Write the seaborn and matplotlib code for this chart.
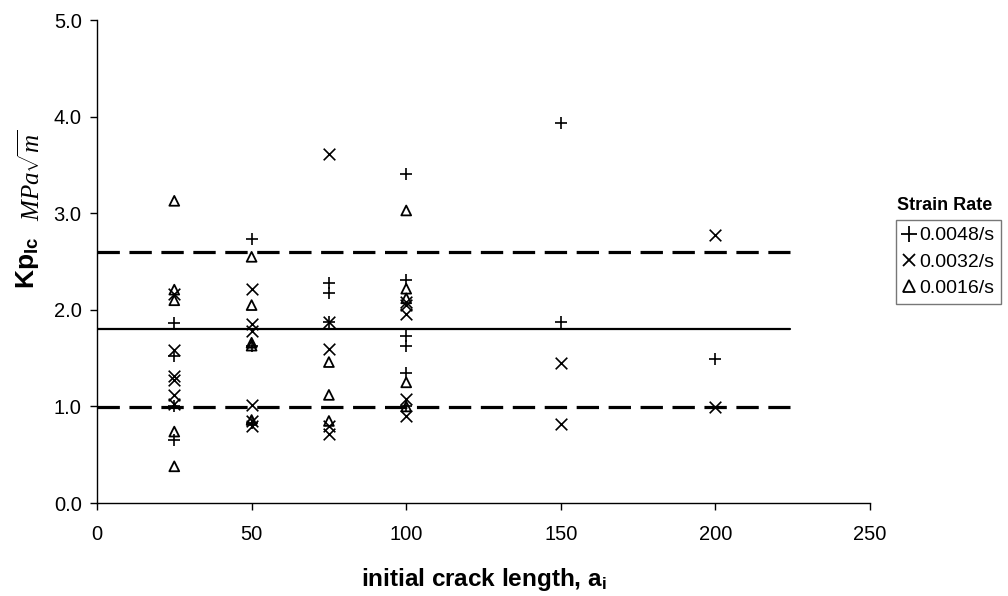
import numpy as np
import pandas as pd
import seaborn as sns
import matplotlib.pyplot as plt
from matplotlib.lines import Line2D

sns.set_theme(style='ticks')
plt.rcParams['font.family'] = ['Liberation Sans', 'DejaVu Sans']
plt.rcParams['text.color'] = 'black'
plt.rcParams['axes.labelcolor'] = 'black'
plt.rcParams['mathtext.fontset'] = 'custom'
plt.rcParams['mathtext.rm'] = 'Liberation Sans'
plt.rcParams['mathtext.bf'] = 'Liberation Sans:bold'
plt.rcParams['mathtext.it'] = 'Liberation Serif:italic'

# 读图数据：初始裂纹长度 vs Kp_Ic
crack_plus = [25, 25, 25, 25, 50, 50, 50, 75, 75, 75,
              100, 100, 100, 100, 100, 100, 150, 150, 200]
k_plus = [1.86, 1.52, 1.00, 0.65, 2.73, 1.63, 0.83, 2.28, 2.18, 1.88,
          3.41, 2.31, 1.73, 1.63, 1.35, 1.00, 3.94, 1.88, 1.49]

crack_x = [25, 25, 25, 25, 25, 25, 50, 50, 50, 50, 50, 50,
           75, 75, 75, 75, 75, 100, 100, 100, 100, 100, 150, 150, 200, 200]
k_x = [2.16, 1.58, 1.32, 1.27, 1.12, 1.03, 2.22, 1.85, 1.78, 1.02, 0.85, 0.80,
       3.61, 1.88, 1.60, 0.80, 0.72, 2.08, 2.05, 1.96, 1.08, 0.90, 1.45, 0.82, 2.78, 0.99]

crack_tri = [25, 25, 25, 25, 25, 50, 50, 50, 50, 50, 75, 75, 75,
             100, 100, 100, 100, 100]
k_tri = [3.13, 2.21, 2.10, 0.74, 0.38, 2.55, 2.05, 1.66, 1.63, 0.86, 1.46, 1.12, 0.85,
         3.03, 2.22, 2.12, 1.25, 1.00]

rate_labels = ['0.0048/s', '0.0032/s', '0.0016/s']

# 平均值和上下界
mean_k = 1.80
upper_k = 2.60
lower_k = 0.99
line_x = [0, 224]

fig = plt.figure(figsize=(10.08, 5.96), dpi=100)
ax = fig.add_axes([0.0962, 0.156, 0.767, 0.810])

df_plus = pd.DataFrame({'a': crack_plus, 'k': k_plus})
df_x = pd.DataFrame({'a': crack_x, 'k': k_x})
df_tri = pd.DataFrame({'a': crack_tri, 'k': k_tri})

sns.scatterplot(data=df_plus, x='a', y='k', marker='+', s=85, color='black',
                linewidth=1.2, ax=ax, zorder=3)
sns.scatterplot(data=df_x, x='a', y='k', marker='x', s=70, color='black',
                linewidth=1.2, ax=ax, zorder=3)
sns.scatterplot(data=df_tri, x='a', y='k', marker='^', s=50, facecolor='none',
                edgecolor='black', linewidth=1.3, ax=ax, zorder=3)

ax.plot(line_x, [mean_k, mean_k], color='black', lw=1.6)
ax.plot(line_x, [upper_k, upper_k], color='black', lw=2.3, dashes=(7, 3))
ax.plot(line_x, [lower_k, lower_k], color='black', lw=2.3, dashes=(7, 3))

ax.set_xlim(0, 250)
ax.set_ylim(0, 5)
ax.set_xticks(np.arange(0, 251, 50))
ax.set_yticks(np.arange(0, 5.1, 1.0))
ax.set_yticklabels([f'{v:.1f}' for v in np.arange(0, 5.1, 1.0)])
ax.tick_params(labelsize=14.5, length=5, width=1, colors='black')
ax.tick_params(axis='y', pad=6)
ax.tick_params(axis='x', pad=11)
for side in ['top', 'right']:
    ax.spines[side].set_visible(False)
for side in ['left', 'bottom']:
    ax.spines[side].set_color('black')
    ax.spines[side].set_linewidth(1)

ax.set_xlabel(r'initial crack length, a$_{\mathbf{i}}$', fontsize=17.5,
              fontweight='bold', labelpad=16)
ax.set_ylabel('')

# y轴标签分两段
fig.text(0.027, 0.559, r'$\mathbf{Kp_{Ic}}$', rotation=90, fontsize=19,
         ha='center', va='center')
fig.text(0.031, 0.706, r'$MPa\sqrt{m}$', rotation=90, fontsize=18,
         ha='center', va='center')

handles = [
    Line2D([], [], marker='+', ls='none', color='black', markersize=11, mew=1.3),
    Line2D([], [], marker='x', ls='none', color='black', markersize=9, mew=1.3),
    Line2D([], [], marker='^', ls='none', mfc='none', mec='black', markersize=8, mew=1.3),
]
leg = fig.legend(handles, rate_labels, loc='upper left',
                 bbox_to_anchor=(0.889, 0.631), fontsize=14, frameon=True,
                 handlelength=0.6, handletextpad=0.25, borderpad=0.35,
                 borderaxespad=0, labelspacing=0.45, fancybox=False,
                 edgecolor='#555555')
leg.get_frame().set_linewidth(1.0)
fig.text(0.9375, 0.656, 'Strain Rate', fontsize=13, fontweight='bold',
         ha='center', va='center')

fig.savefig('out.png', dpi=100, facecolor='white')
